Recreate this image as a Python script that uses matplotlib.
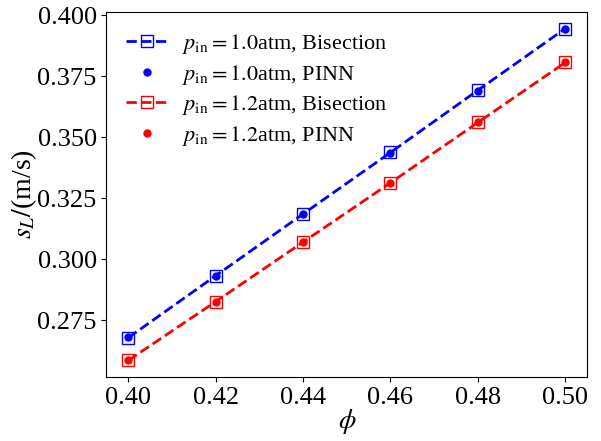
import matplotlib
matplotlib.use("Agg")
import matplotlib.pyplot as plt

plt.rcParams["font.family"] = "Liberation Serif"
plt.rcParams["mathtext.fontset"] = "stix"

phi = [0.40, 0.42, 0.44, 0.46, 0.48, 0.50]
sl_10_bis = [0.2678, 0.2932, 0.3185, 0.3437, 0.3692, 0.3945]
sl_10_pinn = [0.2680, 0.2930, 0.3183, 0.3435, 0.3690, 0.3943]
sl_12_bis = [0.2585, 0.2826, 0.3070, 0.3313, 0.3560, 0.3806]
sl_12_pinn = [0.2587, 0.2826, 0.3070, 0.3313, 0.3560, 0.3806]

fig, ax = plt.subplots(figsize=(6.01, 4.41), dpi=100)
fig.subplots_adjust(left=0.177, right=0.977, top=0.973, bottom=0.145)

ax.plot(phi, sl_10_bis, "--s", color="blue", mfc="none", ms=9, lw=2,
        label=r"$p_{\mathrm{in}}=1.0$atm, Bisection")
ax.plot(phi, sl_10_pinn, "o", color="blue", ms=5, ls="none",
        label=r"$p_{\mathrm{in}}=1.0$atm, PINN")
ax.plot(phi, sl_12_bis, "--s", color="red", mfc="none", ms=9, lw=2,
        label=r"$p_{\mathrm{in}}=1.2$atm, Bisection")
ax.plot(phi, sl_12_pinn, "o", color="red", ms=5, ls="none",
        label=r"$p_{\mathrm{in}}=1.2$atm, PINN")

ax.set_xlabel(r"$\phi$", fontsize=20, labelpad=-1)
ax.set_ylabel(r"$s_L/$(m/s)", fontsize=20, labelpad=-1)
ax.set_xticks([0.40, 0.42, 0.44, 0.46, 0.48, 0.50])
ax.set_yticks([0.275, 0.300, 0.325, 0.350, 0.375, 0.400])
ax.tick_params(labelsize=19)
ax.legend(frameon=False, fontsize=16, loc="upper left",
          labelspacing=0.3, handletextpad=0.6, handlelength=1.9)

plt.savefig("out.png", dpi=100)
